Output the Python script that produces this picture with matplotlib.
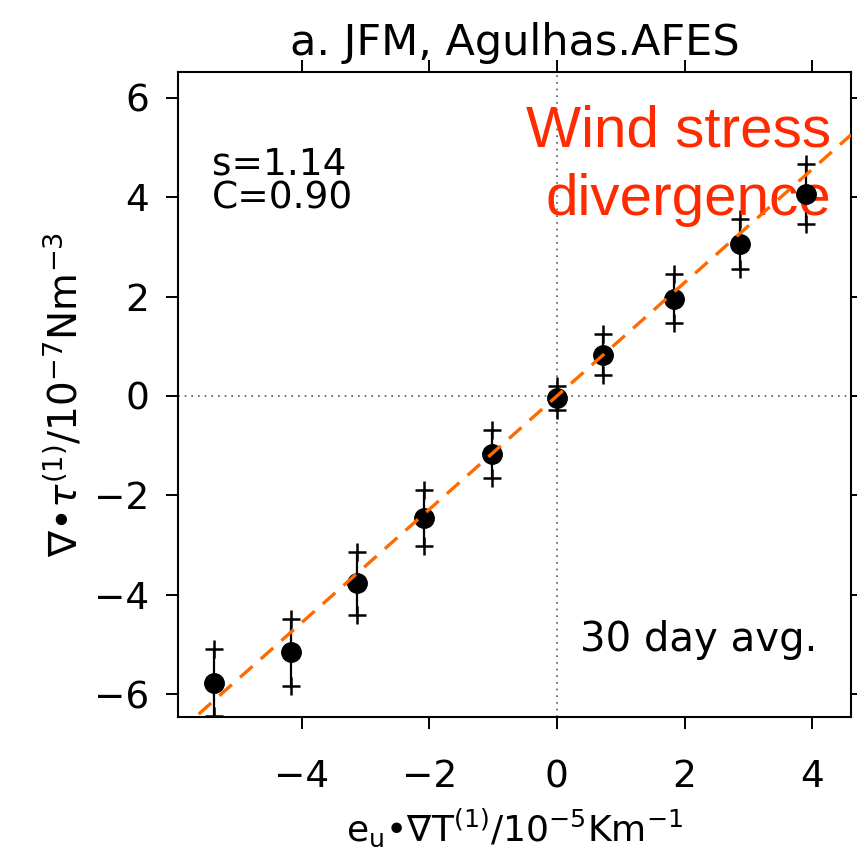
import matplotlib
matplotlib.use('Agg')
import matplotlib.pyplot as plt
import numpy as np

# 数据
x_vals = [-5.37, -4.17, -3.13, -2.08, -1.02, 0.0, 0.72, 1.83, 2.87, 3.90]
y_vals = [-5.77, -5.16, -3.77, -2.46, -1.17, -0.04, 0.83, 1.96, 3.06, 4.06]
y_err = [0.67, 0.68, 0.63, 0.56, 0.49, 0.24, 0.41, 0.50, 0.51, 0.60]
slope = 1.14
corr = 0.90
x_ticks = [-4, -2, 0, 2, 4]
y_ticks = [-6, -4, -2, 0, 2, 4, 6]

plt.rcParams['font.family'] = ['DejaVu Sans']
plt.rcParams['mathtext.fontset'] = 'dejavusans'

fig = plt.figure(figsize=(8.57, 8.63), dpi=100)
ax = fig.add_axes([0.2077, 0.1692, 0.993 - 0.2077, 0.9166 - 0.1692])

xlim = (-5.94, 4.61)
ylim = (-6.46, 6.52)

# 零线
ax.axhline(0, color='#555555', linestyle=(0, (1, 3)), linewidth=1.2, zorder=1)
ax.axvline(0, color='#555555', linestyle=(0, (1, 3)), linewidth=1.2, zorder=1)

# 误差棒
x = np.array(x_vals)
y = np.array(y_vals)
e = np.array(y_err)
ax.vlines(x, y - e, y + e, color='black', linewidth=1.6, zorder=3)
ax.plot(x, y + e, '+', color='black', markersize=13, markeredgewidth=1.8, zorder=3)
ax.plot(x, y - e, '+', color='black', markersize=13, markeredgewidth=1.8, zorder=3)
ax.plot(x, y, 'o', color='black', markersize=14, zorder=4)

# 拟合线
xx = np.array(xlim)
ax.plot(xx, slope * xx, color='#FF6A00', linestyle=(0, (5, 3.3)), linewidth=2.4, zorder=5)

ax.set_xlim(xlim)
ax.set_ylim(ylim)
ax.set_xticks(x_ticks)
ax.set_yticks(y_ticks)
ax.set_xticklabels(['\u2212' + str(-t) if t < 0 else str(t) for t in x_ticks])
ax.set_yticklabels(['\u2212' + str(-t) if t < 0 else str(t) for t in y_ticks])
ax.tick_params(direction='out', length=8.6, width=1.4, labelsize=27,
               top=True, right=True)
ax.tick_params(axis='x', pad=22)
ax.tick_params(axis='y', pad=12)
for sp in ax.spines.values():
    sp.set_linewidth(1.5)

ax.set_title('a. JFM, Agulhas.AFES', fontsize=31, pad=12)
ax.set_xlabel(r'e$_\mathrm{u}$•$\nabla$T$^{(1)}$/10$^{-5}$Km$^{-1}$', fontsize=26, labelpad=8)
ax.set_ylabel(r'$\nabla$•$\tau^{(1)}$/10$^{-7}$Nm$^{-3}$', fontsize=28, labelpad=6)

ax.text(0.05, 0.885, 's=%.2f\nC=%.2f' % (slope, corr), transform=ax.transAxes,
        fontsize=27, va='top', ha='left', linespacing=0.95)
ax.text(0.97, 0.95, 'Wind stress\ndivergence', transform=ax.transAxes,
        fontsize=42, va='top', ha='right', color='#FF2A00',
        family='Liberation Sans', linespacing=1.35)
ax.text(0.95, 0.12, '30 day avg.', transform=ax.transAxes,
        fontsize=29, va='center', ha='right')

plt.savefig('out.png', dpi=100)
